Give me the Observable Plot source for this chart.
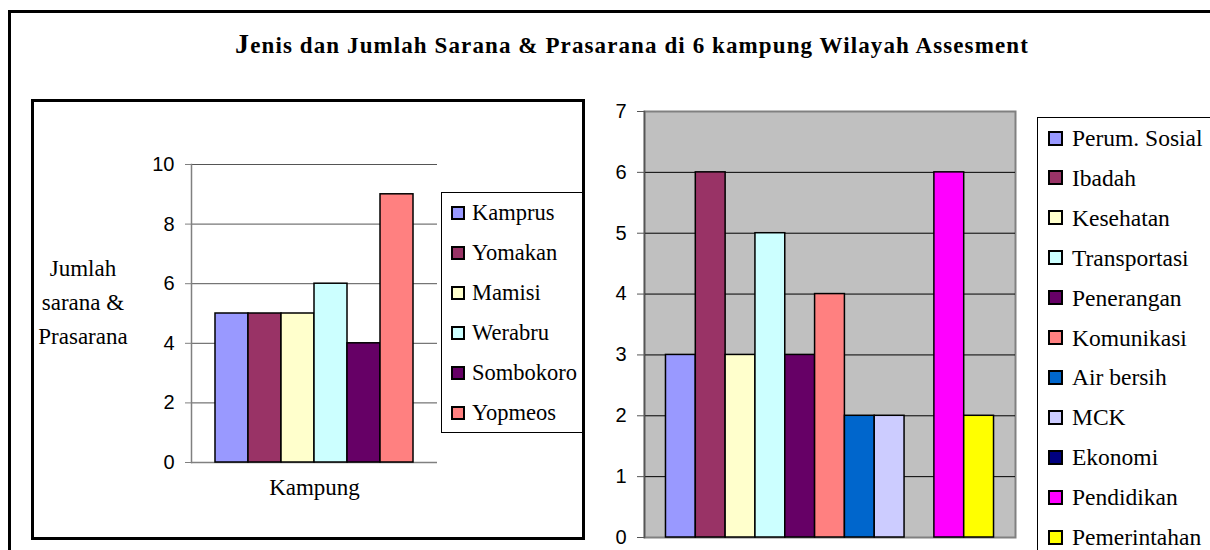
<!DOCTYPE html>
<html>
<head>
<meta charset="utf-8">
<script src="https://cdn.jsdelivr.net/npm/d3@7"></script>
<script src="https://cdn.jsdelivr.net/npm/@observablehq/plot@0.6"></script>
<style>
  html, body { margin: 0; padding: 0; background: #fff; overflow: hidden; }
  #page { position: relative; width: 1210px; height: 550px; overflow: hidden; }
  .abs { position: absolute; }
  #outer { left: 8px; top: 10px; width: 1300px; height: 700px; border: 3px solid #000; box-sizing: border-box; }
  #title { left: 0; width: 1264px; top: 28px; text-align: center; font-family: "Liberation Serif", serif; font-weight: bold; font-size: 23px; letter-spacing: 1.1px; white-space: nowrap; }
  #title .big { font-size: 28px; }
  #innerLeft { left: 31px; top: 99px; width: 554px; height: 441px; border: 3px solid #000; box-sizing: border-box; }
  #ylabel { left: 30px; width: 106px; top: 252px; text-align: center; font-family: "Liberation Serif", serif; font-size: 23px; line-height: 34px; }
  .legend { border: 1px solid #000; box-sizing: border-box; background: #fff; font-family: "Liberation Serif", serif; }
  .item { position: absolute; height: 26px; line-height: 26px; white-space: nowrap; }
  .sw { position: absolute; border: 2px solid #000; box-sizing: border-box; }
  .lbl { position: absolute; top: 0; }
  svg { overflow: visible; }
</style>
</head>
<body>
<div id="page">
  <div id="outer" class="abs"></div>
  <div id="title" class="abs"><span class="big">J</span>enis dan Jumlah Sarana &amp; Prasarana di 6 kampung Wilayah Assesment</div>
  <div id="innerLeft" class="abs"></div>
  <div id="ylabel" class="abs">Jumlah<br>sarana &amp;<br>Prasarana</div>
  <div id="leftChart" class="abs" style="left:40px; top:105px;"></div>
  <div id="rightChart" class="abs" style="left:600px; top:95px;"></div>
  <div id="leftLegend" class="abs legend" style="left:441px; top:192px; width:142px; height:241px; font-size:22.5px;"></div>
  <div id="rightLegend" class="abs legend" style="left:1037px; top:117px; width:200px; height:460px; font-size:23.5px;"></div>
</div>
<script>
// ---- data ----
const kampung = ["Kamprus", "Yomakan", "Mamisi", "Werabru", "Sombokoro", "Yopmeos"];
const kampungValues = [5, 5, 5, 6, 4, 9];
const kampungColors = ["#9999FF", "#993366", "#FFFFCC", "#CCFFFF", "#660066", "#FF8080"];
const kampungTicks = [0, 2, 4, 6, 8, 10];
const kampungAxisLabel = "Kampung";

const sarana = ["Perum. Sosial", "Ibadah", "Kesehatan", "Transportasi", "Penerangan", "Komunikasi", "Air bersih", "MCK", "Ekonomi", "Pendidikan", "Pemerintahan"];
const saranaValues = [3, 6, 3, 5, 3, 4, 2, 2, 0, 6, 2];
const saranaColors = ["#9999FF", "#993366", "#FFFFCC", "#CCFFFF", "#660066", "#FF8080", "#0066CC", "#CCCCFF", "#000080", "#FF00FF", "#FFFF00"];
const saranaTicks = [0, 1, 2, 3, 4, 5, 6, 7];

// ---- tables ----
const leftData = kampung.map((name, i) => ({name, value: kampungValues[i]}));
const rightData = sarana.map((name, i) => ({name, value: saranaValues[i]}));

// ---- left chart ----
const left = Plot.plot({
  width: 540, height: 430,
  marginLeft: 151, marginRight: 143, marginTop: 59, marginBottom: 73,
  style: {background: "transparent", fontFamily: "Liberation Sans, Arial, sans-serif", fontSize: "20px", color: "#000"},
  x: {domain: kampung, paddingInner: 0, paddingOuter: 0.727, round: false, axis: null},
  y: {domain: [0, 10], axis: null},
  color: {domain: kampung, range: kampungColors},
  marks: [
    Plot.gridY(kampungTicks.slice(1), {stroke: "#555", strokeOpacity: 1, strokeWidth: 1}),
    Plot.frame({anchor: "left", stroke: "#808080", strokeWidth: 1.5}),
    Plot.ruleY([0], {stroke: "#808080", strokeWidth: 1.5}),
    Plot.barY(leftData, {x: "name", y: "value", fill: "name", stroke: "#000", strokeWidth: 1.5, inset: 0}),
    Plot.axisY(kampungTicks, {tickSize: 6, tickPadding: 11, tickFormat: d3.format("d"), stroke: "#808080", fill: "#000", fontSize: 20, label: null}),
    Plot.text([kampungAxisLabel], {frameAnchor: "bottom", dy: 32, fontSize: 23, fontFamily: "Liberation Serif, serif", fill: "#000"})
  ]
});
document.getElementById("leftChart").appendChild(left);

// ---- right chart ----
const right = Plot.plot({
  width: 430, height: 452,
  marginLeft: 44, marginRight: 15, marginTop: 16, marginBottom: 10,
  style: {background: "transparent", fontFamily: "Liberation Sans, Arial, sans-serif", fontSize: "20px", color: "#000"},
  x: {domain: sarana, paddingInner: 0, paddingOuter: 0.72, round: false, axis: null},
  y: {domain: [0, 7], axis: null},
  color: {domain: sarana, range: saranaColors},
  marks: [
    Plot.frame({fill: "#C0C0C0", stroke: "#808080", strokeWidth: 2}),
    Plot.gridY(saranaTicks.slice(1, -1), {stroke: "#000", strokeOpacity: 1, strokeWidth: 1}),
    Plot.frame({anchor: "left", stroke: "#555", strokeWidth: 1.5}),
    Plot.barY(rightData, {x: "name", y: "value", fill: "name", stroke: "#000", strokeWidth: 1.5, inset: 0}),
    Plot.axisY(saranaTicks, {tickSize: 7, tickPadding: 11, tickFormat: d3.format("d"), stroke: "#555", fill: "#000", fontSize: 20, label: null})
  ]
});
document.getElementById("rightChart").appendChild(right);

// ---- legends ----
function legend(el, names, colors, opts) {
  names.forEach((n, i) => {
    const it = document.createElement("div");
    it.className = "item";
    it.style.left = "0px";
    it.style.top = (opts.top + i * opts.step - 13) + "px";
    const sw = document.createElement("div");
    sw.className = "sw";
    sw.style.left = opts.swX + "px";
    sw.style.width = opts.sw + "px";
    sw.style.height = opts.sw + "px";
    sw.style.top = (13 - opts.sw / 2) + "px";
    sw.style.background = colors[i];
    const lb = document.createElement("div");
    lb.className = "lbl";
    lb.style.left = opts.txtX + "px";
    lb.textContent = n;
    it.appendChild(sw); it.appendChild(lb);
    el.appendChild(it);
  });
}
legend(document.getElementById("leftLegend"), kampung, kampungColors, {top: 20, step: 40, swX: 9, sw: 14, txtX: 30});
legend(document.getElementById("rightLegend"), sarana, saranaColors, {top: 20, step: 39.9, swX: 10, sw: 15, txtX: 34});
</script>
</body>
</html>
